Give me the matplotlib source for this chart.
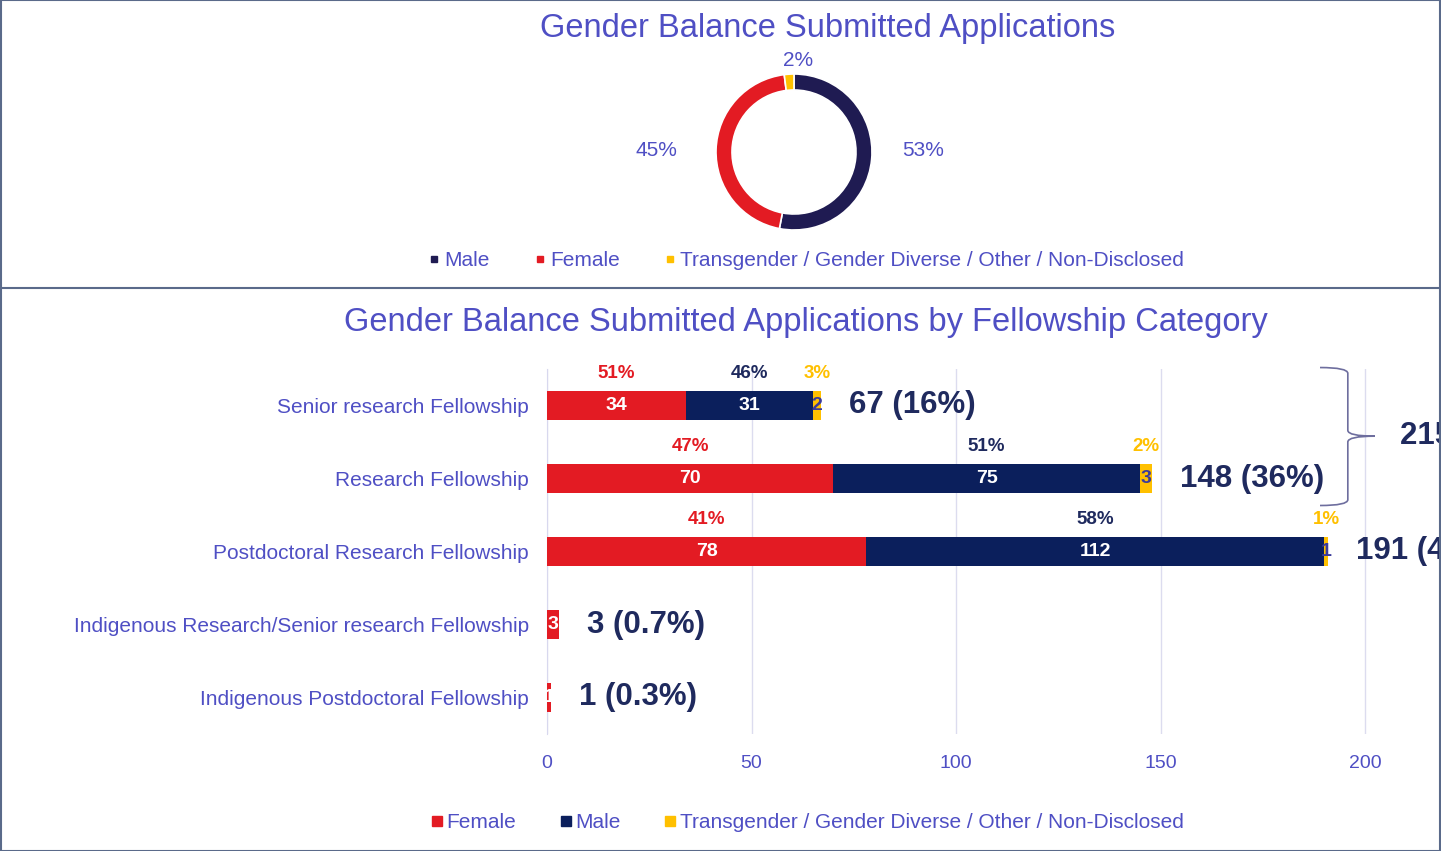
import matplotlib
matplotlib.use("Agg")
import matplotlib.pyplot as plt
from matplotlib.path import Path
from matplotlib.patches import PathPatch
from matplotlib.lines import Line2D
import numpy as np

plt.rcParams['font.family'] = ['Liberation Sans', 'DejaVu Sans']

# ---------------- data ----------------
donut_labels = ["Male", "Female", "Transgender / Gender Diverse / Other / Non-Disclosed"]
donut_values = [53, 45, 2]

categories = ["Senior research Fellowship", "Research Fellowship",
              "Postdoctoral Research Fellowship",
              "Indigenous Research/Senior research Fellowship",
              "Indigenous Postdoctoral Fellowship"]
female = [34, 70, 78, 3, 1]
male = [31, 75, 112, 0, 0]
other = [2, 3, 1, 0, 0]
female_pct = ["51%", "47%", "41%", "", ""]
male_pct = ["46%", "51%", "58%", "", ""]
other_pct = ["3%", "2%", "1%", "", ""]
totals_text = ["67 (16%)", "148 (36%)", "191 (47%)", "3 (0.7%)", "1 (0.3%)"]
group_text = "215 (52%)"
xticks = [0, 50, 100, 150, 200]

# ---------------- styles ----------------
RED = "#E31B23"
NAVY = "#0B1F5C"
DNAVY = "#1F1B52"
YEL = "#FFC000"
TXT = "#4F4FC4"
TOT = "#1F2A5E"

W, H = 1441, 851
fig = plt.figure(figsize=(W / 100, H / 100), dpi=100)

# panel frames
fig.add_artist(Line2D([0, 1], [1 - 288 / H] * 2, color="#5A6A8A", lw=1.5, transform=fig.transFigure))
fig.add_artist(plt.Rectangle((0.0005, 0.0005), 0.999, 0.999, fill=False, ec="#5A6A8A", lw=1.5,
                             transform=fig.transFigure))

# ---------------- donut ----------------
fig.text(828 / W, 1 - 28 / H, "Gender Balance Submitted Applications", ha="center", va="center",
         fontsize=23.5, color=TXT)
cx, cy, s = 794, 152, 200
axd = fig.add_axes([(cx - s / 2) / W, (H - cy - s / 2) / H, s / W, s / H])
wedges, _ = axd.pie(donut_values, colors=[DNAVY, RED, YEL], startangle=90, counterclock=False,
                    radius=0.78, wedgeprops=dict(width=0.16, edgecolor="white", linewidth=1.2))
axd.set_xlim(-1, 1)
axd.set_ylim(-1, 1)
axd.set_aspect("equal")
axd.axis("off")
label_pos = [(1.29, 0.01), (-1.38, 0.01), (0.04, 0.91)]
for v, (lx, ly) in zip(donut_values, label_pos):
    axd.text(lx, ly, f"{v}%", ha="center", va="center", fontsize=15, color=TXT, clip_on=False)

h_top = [Line2D([], [], marker="s", ls="", color=c, markersize=5) for c in [DNAVY, RED, YEL]]
fig.legend(h_top, donut_labels, loc="center", bbox_to_anchor=(805 / W, 1 - 261 / H), ncol=3,
           frameon=False, fontsize=15, labelcolor=TXT, handletextpad=0.1, columnspacing=2.0,
           handlelength=0.8)

# ---------------- bars ----------------
fig.text(806 / W, 1 - 323 / H, "Gender Balance Submitted Applications by Fellowship Category",
         ha="center", va="center", fontsize=23.5, color=TXT)
x0, x1 = 547, W
ppu = (1365 - 547) / 200
ax = fig.add_axes([x0 / W, 1 - 734 / H, (x1 - x0) / W, 365 / H])
y = np.arange(len(categories))
f = np.array(female); m = np.array(male); o = np.array(other)
bh = 0.4
ax.barh(y, f, height=bh, color=RED, zorder=3)
ax.barh(y, m, left=f, height=bh, color=NAVY, zorder=3)
ax.barh(y, o, left=f + m, height=bh, color=YEL, zorder=3)
ax.set_xlim(0, (x1 - x0) / ppu)
ax.set_ylim(4.5, -0.5)
ax.set_xticks(xticks)
ax.set_yticks(y)
ax.set_yticklabels(categories)
ax.tick_params(axis="both", length=0, labelsize=15, labelcolor=TXT)
ax.tick_params(axis="x", labelsize=14, pad=15)
ax.tick_params(axis="y", pad=13)
for sp in ["top", "right", "bottom"]:
    ax.spines[sp].set_visible(False)
ax.spines["left"].set_color("#D8D8EE")
ax.grid(axis="x", color="#DCDCEF", lw=1, zorder=0)
ax.set_axisbelow(True)

for i in range(len(categories)):
    segs = [(0, f[i], "white", female_pct[i], RED),
            (f[i], m[i], "white", male_pct[i], TOT),
            (f[i] + m[i], o[i], "#3B3B9B", other_pct[i], YEL)]
    for left, val, tc, pct, pc in segs:
        if val > 0:
            ax.text(left + val / 2, i, str(val), ha="center", va="center", color=tc,
                    fontsize=14, fontweight="bold", zorder=4)
        if pct:
            ax.text(left + val / 2, i - 0.44, pct, ha="center", va="center", color=pc,
                    fontsize=13.5, fontweight="bold", zorder=4)
    ax.annotate(totals_text[i], (f[i] + m[i] + o[i], i), xytext=(20, 0), textcoords="offset points",
                ha="left", va="center", fontsize=22.5, fontweight="bold", color=TOT, zorder=4,
                annotation_clip=False)

# brace grouping first two rows
bx0, bx1, btip = 189, 195.8, 202.4
yt, yb, ym = -0.52, 1.37, 0.42
verts = [(bx0, yt), (bx1, yt), (bx1, yt + 0.08),
         (bx1, ym - 0.08), (bx1, ym), (btip, ym),
         (bx1, ym), (bx1, ym + 0.08),
         (bx1, yb - 0.08), (bx1, yb), (bx0, yb)]
codes = [Path.MOVETO, Path.CURVE3, Path.CURVE3,
         Path.LINETO, Path.CURVE3, Path.CURVE3,
         Path.CURVE3, Path.CURVE3,
         Path.LINETO, Path.CURVE3, Path.CURVE3]
ax.add_patch(PathPatch(Path(verts, codes), fill=False, ec="#6E6E9E", lw=1.2, clip_on=False, zorder=5))
ax.text(208.5, ym, group_text, ha="left", va="center", fontsize=22.5, fontweight="bold", color=TOT,
        clip_on=False)

h_bot = [Line2D([], [], marker="s", ls="", color=c, markersize=7) for c in [RED, NAVY, YEL]]
fig.legend(h_bot, ["Female", "Male", "Transgender / Gender Diverse / Other / Non-Disclosed"],
           loc="center", bbox_to_anchor=(806 / W, 1 - 823 / H), ncol=3, frameon=False, fontsize=15,
           labelcolor=TXT, handletextpad=0.05, columnspacing=2.0, handlelength=0.8)

fig.savefig("out.png", dpi=100)
